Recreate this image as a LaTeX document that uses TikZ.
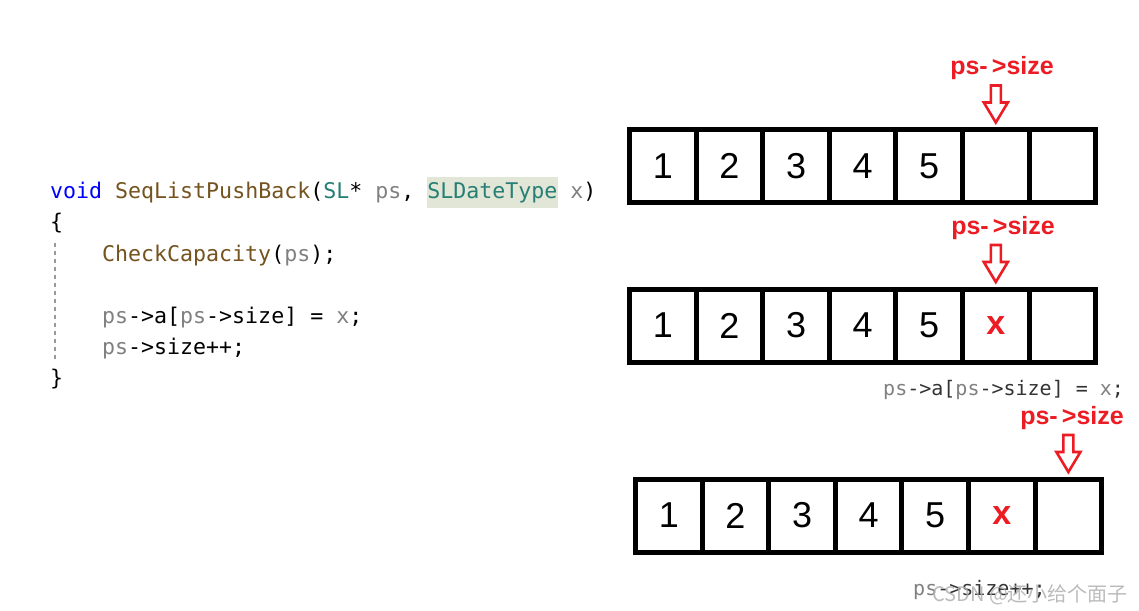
\documentclass[tikz,border=0pt]{standalone}
\usepackage{fontspec}
\setmonofont{DejaVu Sans Mono}
\newfontfamily\digitfont{Liberation Sans}
\newfontfamily\lblfont{Liberation Sans}
\newfontfamily\cjkfont{Noto Sans CJK SC}
\usetikzlibrary{calc}
\definecolor{kwblue}{HTML}{0000FF}
\definecolor{fnbrown}{HTML}{74531F}
\definecolor{tyteal}{HTML}{267F75}
\definecolor{pgray}{HTML}{808080}
\definecolor{hlbg}{HTML}{E2E6D6}
\definecolor{lblred}{HTML}{EC1C24}
\definecolor{wmgray}{HTML}{B0B0B0}
\newcommand{\hollowdown}[1]{%
  \draw[blockarrow] ($(#1)+(0,-7)$) -- ++(-12,-20) -- ++(7,0) -- ++(0,-17)
    -- ++(10,0) -- ++(0,17) -- ++(7,0) -- cycle;}
\newcommand{\redx}{\textcolor{lblred}{\digitfont\fontsize{34}{34}\selectfont\bfseries x}}
\begin{document}
\begin{tikzpicture}[x=1pt,y=-1pt,
  cell/.style={draw=black, line width=5pt, minimum width=66.6pt, minimum height=73pt,
    inner sep=0pt, outer sep=0pt, font=\digitfont\fontsize{36}{36}\selectfont},
  lbl/.style={text=lblred, inner sep=0pt, font=\lblfont\bfseries\fontsize{25}{25}\selectfont},
  code/.style={anchor=base west, inner sep=0pt, font=\ttfamily\fontsize{21.6}{21.6}\selectfont},
  scode/.style={anchor=base west, inner sep=0pt, text=black!80, font=\ttfamily\fontsize{20}{20}\selectfont},
  blockarrow/.style={draw=lblred, fill=white, line width=2.6pt, line join=miter},
  guide/.style={draw=pgray!80, line width=1.3pt, dash pattern=on 4pt off 4pt}]
\useasboundingbox (0,0) rectangle (1139,610);
\fill[white] (0,0) rectangle (1139,610);

% ---- left code ----
\fill[hlbg] (427,177) rectangle (558,208);
\node[code] (c1) at (50,198) {\textcolor{kwblue}{void} \textcolor{fnbrown}{SeqListPushBack}(\textcolor{tyteal}{SL}* \textcolor{pgray}{ps}, \textcolor{tyteal}{SLDateType} \textcolor{pgray}{x})};
\node[code] (c2) at (50,229) {\{};
\node[code] (c3) at (102,261) {\textcolor{fnbrown}{CheckCapacity}(\textcolor{pgray}{ps});};
\node[code] (c4) at (102,323) {\textcolor{pgray}{ps}->a[\textcolor{pgray}{ps}->size] = \textcolor{pgray}{x};};
\node[code] (c5) at (102,354) {\textcolor{pgray}{ps}->size++;};
\node[code] (c6) at (50,385) {\}};
\draw[guide] (55,243) -- (55,362);

% ---- array 1 ----
\foreach \i/\t in {1/1,2/2,3/3,4/4,5/5,6/{},7/{}}
  \node[cell] (a\i) at ({629.5+66.6*(\i-0.5)},166) {\t};
\node[lbl] (la) at (1002,68) {ps-\,>size};
\hollowdown{a6.north}

% ---- array 2 ----
\foreach \i/\t in {1/1,2/2,3/3,4/4,5/5,6/\redx,7/{}}
  \node[cell] (b\i) at ({629.5+66.6*(\i-0.5)},325.5) {\t};
\node[lbl] (lb) at (1003,228) {ps-\,>size};
\hollowdown{b6.north}
\node[scode] (sb) at (883,395) {\textcolor{pgray}{ps}->a[\textcolor{pgray}{ps}->size] = \textcolor{pgray}{x};};

% ---- array 3 ----
\foreach \i/\t in {1/1,2/2,3/3,4/4,5/5,6/\redx,7/{}}
  \node[cell] (d\i) at ({635.5+66.6*(\i-0.5)},515.5) {\t};
\node[lbl] (ld) at (1072,418) {ps-\,>size};
\hollowdown{d7.north}
\node[scode] (sd) at (913,595) {\textcolor{pgray}{ps}->size++;};

% ---- watermark (overlaps the code line, as in the reference) ----
\node[anchor=base west, inner sep=0pt, text=wmgray, opacity=0.85,
  font=\cjkfont\fontsize{20}{20}\selectfont] (wm) at (932,601) {CSDN @还小给个面子};
\end{tikzpicture}
\end{document}
